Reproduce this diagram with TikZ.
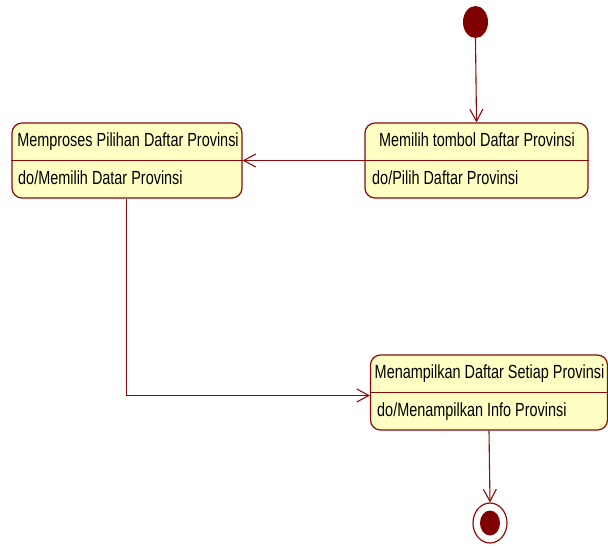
\documentclass[tikz,border=0pt]{standalone}
\usepackage{fontspec}
\setmainfont[FakeStretch=0.76]{Liberation Sans}
\usetikzlibrary{arrows.meta,shapes.geometric}
\definecolor{umlline}{HTML}{8B0A0A}
\definecolor{umlfill}{HTML}{FFFFC4}
\definecolor{umldot}{HTML}{800000}
\begin{document}
\begin{tikzpicture}[x=1pt,y=-1pt,
  statebox/.style={draw=umlline, fill=umlfill, line width=1.2pt, rounded corners=10pt,
    minimum height=75pt, inner sep=0pt},
  title/.style={font=\fontsize{19}{22}\selectfont, inner sep=0pt, anchor=base},
  activity/.style={font=\fontsize{19}{22}\selectfont, inner sep=0pt, anchor=base west},
  divider/.style={draw=umlline, line width=1.2pt},
  flow/.style={draw=umlline, line width=1.1pt, -{Straight Barb[length=12pt,width=13pt,line width=1.1pt]}}]
\useasboundingbox (0,0) rectangle (608,546);

% states
\node[statebox, minimum width=230pt] (pilih) at (127,160.5) {};
\node[statebox, minimum width=223pt] (tombol) at (476.5,160.5) {};
\node[statebox, minimum width=237pt] (tampil) at (489,392.5) {};

% compartment dividers
\draw[divider] (pilih.west) -- (pilih.east);
\draw[divider] (tombol.west) -- (tombol.east);
\draw[divider] (tampil.west) -- (tampil.east);

% state names and do-activities
\node[title] (t1) at (128,146.5) {Memproses Pilihan Daftar Provinsi};
\node[activity] (a1) at (18,184.5) {do/Memilih Datar Provinsi};
\node[title] (t2) at (477,146.5) {Memilih tombol Daftar Provinsi};
\node[activity] (a2) at (372,184.5) {do/Pilih Daftar Provinsi};
\node[title] (t3) at (489.5,378.5) {Menampilkan Daftar Setiap Provinsi};
\node[activity] (a3) at (377,416.5) {do/Menampilkan Info Provinsi};

% initial and final pseudo-states
\node[ellipse, fill=umldot, minimum width=25pt, minimum height=32pt, inner sep=0pt] (start) at (475.5,22) {};
\node[ellipse, draw=umlline, fill=white, line width=1.2pt, minimum width=34pt, minimum height=40pt, inner sep=0pt] (end) at (490,523) {};
\node[ellipse, fill=umldot, minimum width=20pt, minimum height=25pt, inner sep=0pt] (endcore) at (end.center) {};

% transitions
\draw[flow] (start.south) -- (tombol.north);
\draw[flow] (tombol.east) -- (pilih.east);
\draw[flow] ([xshift=-0.5pt]pilih.south) |- ([yshift=-3pt]tampil.west);
\draw[flow] (tampil.south) -- (end.north);
\end{tikzpicture}
\end{document}
